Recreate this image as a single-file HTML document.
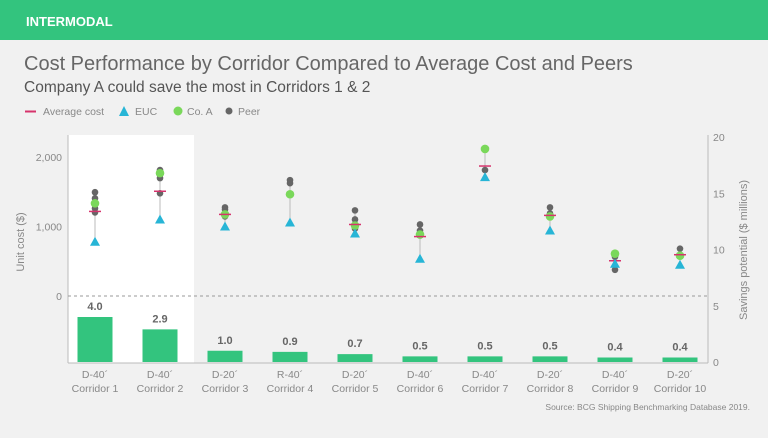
<!DOCTYPE html>
<html><head><meta charset="utf-8"><style>
body{margin:0;width:768px;height:433px;background:#f1f1f1;font-family:"Liberation Sans",sans-serif;overflow:hidden}
</style></head><body>
<svg width="768" height="433" xmlns="http://www.w3.org/2000/svg" id="c" font-family="Liberation Sans, sans-serif">
<rect x="0" y="0" width="768" height="40" fill="#33c47e"/>
<text x="26" y="26" fill="#fff" font-size="13" font-weight="bold">INTERMODAL</text>
<text x="24" y="70" fill="#666" font-size="20">Cost Performance by Corridor Compared to Average Cost and Peers</text>
<text x="24" y="92" fill="#555" font-size="15.5">Company A could save the most in Corridors 1 &amp; 2</text>
<g font-size="10.5" fill="#888">
<line x1="25" y1="111.5" x2="36" y2="111.5" stroke="#d6336c" stroke-width="2"/><text x="43" y="115">Average cost</text>
<polygon points="124,106 129,116 119,116" fill="#27b5d6"/><text x="135" y="115">EUC</text>
<circle cx="178" cy="111" r="4.5" fill="#7ad85a"/><text x="187" y="115">Co. A</text>
<circle cx="229" cy="111" r="3.5" fill="#666"/><text x="238" y="115">Peer</text>
</g>
<rect x="68" y="135" width="126" height="228" fill="#fff"/>
<g id="plot"></g>
<text x="750" y="410" text-anchor="end" fill="#888" font-size="8.5">Source: BCG Shipping Benchmarking Database 2019.</text>
</svg>
<script>
const categories=["Corridor 1","Corridor 2","Corridor 3","Corridor 4","Corridor 5","Corridor 6","Corridor 7","Corridor 8","Corridor 9","Corridor 10"];
const types=["D-40´","D-40´","D-20´","R-40´","D-20´","D-40´","D-40´","D-20´","D-40´","D-20´"];
const savings=[4.0,2.9,1.0,0.9,0.7,0.5,0.5,0.5,0.4,0.4];
const avgCost=[1217,1507,1174,null,1029,855,1870,1160,507,594];
const eucCost=[780,1101,1000,1058,899,536,1710,942,464,449];
const coACost=[1333,1768,1174,1464,1014,884,2116,1145,609,580];
const peerCost=[[1493,1406,1261,1203],[1812,1783,1696,1478],[1275,1246,1145],[1667,1623],[1232,1101,971],[1029,942],[1812],[1275,1188],[565,377],[681]];
const leftTicks=[0,1000,2000];
const rightTicks=[0,5,10,15,20];
const NS="http://www.w3.org/2000/svg";
const g=document.getElementById('plot');
const yL=v=>296-v*0.0695;
const yR=v=>362-v*11.25;
const xC=i=>95+i*65;
function mk(t,a,p){const e=document.createElementNS(NS,t);for(const k in a)e.setAttribute(k,a[k]);(p||g).appendChild(e);return e;}
// axes
let e=mk('line',{x1:68,y1:135,x2:68,y2:363,stroke:'#bbb'});


e=mk('line',{x1:708,y1:135,x2:708,y2:363,stroke:'#bbb'});


e=mk('line',{x1:68,y1:363,x2:708,y2:363,stroke:'#bbb'});


e=mk('line',{x1:68,y1:yL(0),x2:708,y2:yL(0),stroke:'#999','stroke-dasharray':'3,3'});


leftTicks.forEach(v=>{const t=mk('text',{x:62,y:yL(v)+4,'text-anchor':'end','font-size':'10.5',fill:'#888'});t.textContent=v.toLocaleString('en-US');

});
rightTicks.forEach(v=>{const t=mk('text',{x:713,y:yR(v)+4,'font-size':'10.5',fill:'#888'});t.textContent=v;

});
e=mk('text',{x:0,y:0,transform:'translate(24,242) rotate(-90)','text-anchor':'middle','font-size':'11',fill:'#888'});e.textContent='Unit cost ($)';


e=mk('text',{x:0,y:0,transform:'translate(747,250) rotate(-90)','text-anchor':'middle','font-size':'11',fill:'#888'});e.textContent='Savings potential ($ millions)';


categories.forEach((c,i)=>{
 const x=xC(i);
 const b=mk('rect',{x:x-17.5,y:yR(savings[i]),width:35,height:yR(0)-yR(savings[i]),fill:'#33c47e'});
 
 
 const lb=mk('text',{x:x,y:yR(savings[i])-7,'text-anchor':'middle','font-size':'11','font-weight':'bold',fill:'#666'});lb.textContent=savings[i].toFixed(1);
 
 
 const t1=mk('text',{x:x,y:378,'text-anchor':'middle','font-size':'10.5',fill:'#888'});t1.textContent=types[i];
 
 
 const t2=mk('text',{x:x,y:392,'text-anchor':'middle','font-size':'10.5',fill:'#888'});t2.textContent=c;
 
 
 const vals=[eucCost[i],coACost[i],...peerCost[i]];if(avgCost[i]!=null)vals.push(avgCost[i]);
 const r=mk('line',{x1:x,x2:x,y1:yL(Math.max(...vals)),y2:yL(Math.min(...vals)),stroke:'#bbb'});
 
 
 peerCost[i].forEach(v=>{const p=mk('circle',{cx:x,cy:yL(v),r:3.3,fill:'#666'});
 
 });
 const ca=mk('circle',{cx:x,cy:yL(coACost[i]),r:4.3,fill:'#7ad85a'});
 
 
 if(avgCost[i]!=null){const a=mk('line',{x1:x-6,x2:x+6,y1:yL(avgCost[i]),y2:yL(avgCost[i]),stroke:'#d6336c','stroke-width':1.5});
 
 }
 const ey=yL(eucCost[i]);
 const tr=mk('polygon',{points:`${x},${ey-5} ${x+5},${ey+4} ${x-5},${ey+4}`,fill:'#27b5d6'});
 
 
});
</script>
</body></html>
